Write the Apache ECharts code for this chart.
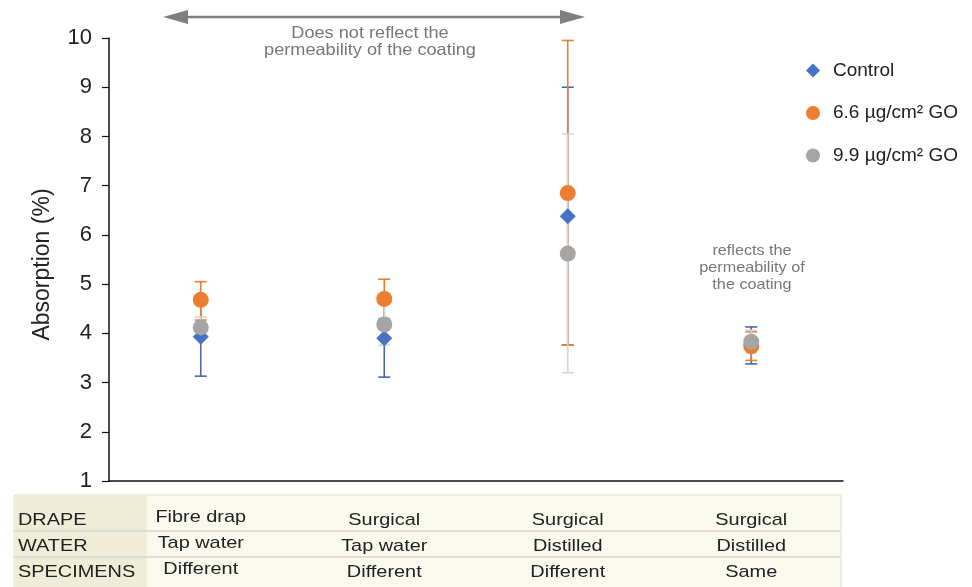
<!DOCTYPE html>
<html>
<head>
<meta charset="utf-8">
<script src="https://cdn.jsdelivr.net/npm/echarts@6/dist/echarts.min.js"></script>
<style>
  html, body { margin: 0; padding: 0; background: #fff; }
  #chart { width: 972px; height: 587px; }
</style>
</head>
<body>
<div id="chart"></div>
<script>
// test groups (x positions), labels come from the table below the chart
const categories = ['Test 1', 'Test 2', 'Test 3', 'Test 4']
const yTicks = [1, 2, 3, 4, 5, 6, 7, 8, 9, 10]

const controlMean = [3.93, 3.90, 6.38, 3.78]
const controlLow = [3.13, 3.11, 3.76, 3.38]
const controlHigh = [4.73, 4.69, 9.00, 4.13]

const go66Mean = [4.68, 4.70, 6.85, 3.74]
const go66Low = [4.27, 4.30, 3.76, 3.45]
const go66High = [5.05, 5.10, 9.95, 4.03]

const go99Mean = [4.12, 4.18, 5.62, 3.83]
const go99Low = [3.91, 3.76, 3.20, 3.60]
const go99High = [4.33, 4.60, 8.05, 4.06]

const seriesNames = ['Control', '6.6 µg/cm² GO', '9.9 µg/cm² GO']

const rowLabels = ['DRAPE', 'WATER', 'SPECIMENS']
const drapeRow = ['Fibre drap', 'Surgical', 'Surgical', 'Surgical']
const waterRow = ['Tap water', 'Tap water', 'Distilled', 'Distilled']
const specimensRow = ['Different', 'Different', 'Different', 'Same']

const FONT = '"Liberation Sans", Arial, sans-serif'

function errorBars(low, high, color) {
    return {
        type: 'custom',
        z: 1,
        silent: true,
        data: low.map(function(l, i) { return [i, l, high[i]] }),
        encode: { x: 0, y: [1, 2] },
        renderItem: function(params, api) {
            let lo = api.coord([api.value(0), api.value(1)])
            let hi = api.coord([api.value(0), api.value(2)])
            let half = 6
            let style = { stroke: color, lineWidth: 1.6 }
            return {
                type: 'group',
                children: [
                    { type: 'line', shape: { x1: lo[0], y1: lo[1], x2: hi[0], y2: hi[1] }, style: style },
                    { type: 'line', shape: { x1: lo[0] - half, y1: lo[1], x2: lo[0] + half, y2: lo[1] }, style: style },
                    { type: 'line', shape: { x1: hi[0] - half, y1: hi[1], x2: hi[0] + half, y2: hi[1] }, style: style }
                ]
            }
        }
    }
}

let myChart = echarts.init(document.getElementById('chart'), null, { renderer: 'canvas' })

let option = {
    animation: false,
    textStyle: { fontFamily: FONT },
    grid: { left: 109, right: 129, top: 38, bottom: 106 },
    legend: {
        orient: 'vertical',
        left: 801,
        top: 56,
        itemWidth: 14,
        itemHeight: 14,
        itemGap: 23.5,
        data: seriesNames,
        textStyle: { fontSize: 19, color: '#222', fontFamily: FONT, padding: [0, 0, 0, 8] }
    },
    xAxis: {
        type: 'category',
        data: categories,
        boundaryGap: true,
        axisLine: { lineStyle: { color: '#111', width: 1.5 } },
        axisTick: { show: false },
        axisLabel: { show: false },
        splitLine: { show: false }
    },
    yAxis: {
        type: 'value',
        min: yTicks[0],
        max: yTicks[yTicks.length - 1],
        interval: 1,
        name: 'Absorption (%)',
        nameLocation: 'middle',
        nameGap: 55,
        nameTextStyle: { fontSize: 23, color: '#222', fontFamily: FONT, padding: [0, 10, 0, 0] },
        axisLine: { show: true, lineStyle: { color: '#111', width: 1.5 } },
        axisTick: { show: true, length: 7, lineStyle: { color: '#111', width: 1.2 } },
        axisLabel: { fontSize: 22, color: '#222', margin: 17, fontFamily: FONT },
        splitLine: { show: false }
    },
    series: [
        errorBars(controlLow, controlHigh, '#4a67a8'),
        errorBars(go66Low, go66High, '#ED7D31'),
        errorBars(go99Low, go99High, '#d4d4d4'),
        {
            name: seriesNames[0],
            type: 'scatter',
            symbol: 'diamond',
            symbolSize: 16,
            z: 2,
            itemStyle: { color: '#4472C4', opacity: 1 },
            data: controlMean
        },
        {
            name: seriesNames[1],
            type: 'scatter',
            symbol: 'circle',
            symbolSize: 16,
            z: 2,
            itemStyle: { color: '#ED7D31', opacity: 1 },
            data: go66Mean
        },
        {
            name: seriesNames[2],
            type: 'scatter',
            symbol: 'circle',
            symbolSize: 16,
            z: 2,
            itemStyle: { color: '#A5A5A5', opacity: 1 },
            data: go99Mean
        }
    ]
}
myChart.setOption(option)

// annotations and the table under the plot (the source picture is a bit stretched sideways)
let gray = '#7f7f7f'
let graphics = [
    { type: 'line', shape: { x1: 182, y1: 17, x2: 566, y2: 17 }, style: { stroke: gray, lineWidth: 2.5 } },
    { type: 'polygon', shape: { points: [[163, 17], [188, 10], [188, 24]] }, style: { fill: gray } },
    { type: 'polygon', shape: { points: [[585, 17], [560, 10], [560, 24]] }, style: { fill: gray } },
    {
        type: 'text', x: 370, y: 41.5, scaleX: 1.1,
        style: {
            text: 'Does not reflect the\npermeability of the coating',
            font: '16.5px ' + FONT, fill: '#777', align: 'center', verticalAlign: 'middle', lineHeight: 17
        }
    },
    {
        type: 'text', x: 752, y: 268, scaleX: 1.08,
        style: {
            text: 'reflects the\npermeability of\nthe coating',
            font: '15px ' + FONT, fill: '#777', align: 'center', verticalAlign: 'middle', lineHeight: 17
        }
    },
    { type: 'rect', shape: { x: 14, y: 495, width: 827, height: 100 }, style: { fill: '#f9f9ed', stroke: '#e3e1cf', lineWidth: 1 } },
    { type: 'rect', shape: { x: 14.5, y: 495.5, width: 132, height: 100 }, style: { fill: '#efecd8' } },
    { type: 'line', shape: { x1: 14, y1: 531, x2: 841, y2: 531 }, style: { stroke: '#d8d7cc', lineWidth: 1.5 } },
    { type: 'line', shape: { x1: 14, y1: 557, x2: 841, y2: 557 }, style: { stroke: '#d8d7cc', lineWidth: 1.5 } }
]

let rows = [drapeRow, waterRow, specimensRow]
let rowY = [520, 546, 572]
rows.forEach(function(row, r) {
    graphics.push({
        type: 'text', x: 18, y: rowY[r], scaleX: 1.17,
        style: { text: rowLabels[r], font: '17px ' + FONT, fill: '#222', verticalAlign: 'middle' }
    })
    row.forEach(function(cell, c) {
        let x = myChart.convertToPixel({ xAxisIndex: 0 }, c)
        graphics.push({
            type: 'text', x: x, y: rowY[r] - (c === 0 ? 3 : 0), scaleX: 1.17,
            style: { text: cell, font: '17px ' + FONT, fill: '#222', align: 'center', verticalAlign: 'middle' }
        })
    })
})

myChart.setOption({ graphic: graphics })
</script>
</body>
</html>
